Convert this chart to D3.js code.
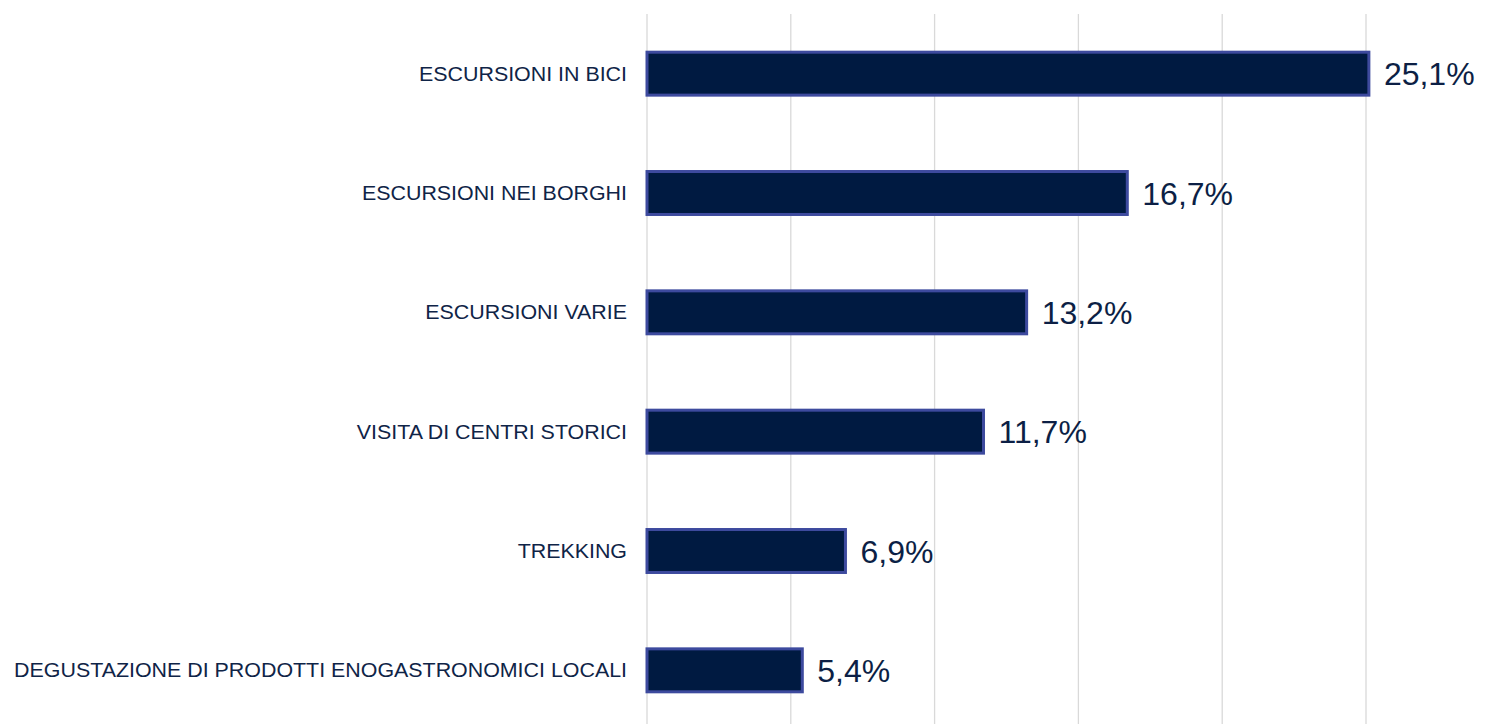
<!DOCTYPE html>
<html>
<head>
<meta charset="utf-8">
<script src="https://cdn.jsdelivr.net/npm/d3@7"></script>
<style>
  html, body { margin: 0; padding: 0; background: #fff; }
  svg text { font-family: "Liberation Sans", Arial, sans-serif; }
</style>
</head>
<body>
<svg id="chart" width="1496" height="724"></svg>
<script>
var categories = [
  'ESCURSIONI IN BICI',
  'ESCURSIONI NEI BORGHI',
  'ESCURSIONI VARIE',
  'VISITA DI CENTRI STORICI',
  'TREKKING',
  'DEGUSTAZIONE DI PRODOTTI ENOGASTRONOMICI LOCALI'
];
var values = [25.1, 16.7, 13.2, 11.7, 6.9, 5.4];
var gridTicks = [0, 5, 10, 15, 20, 25];

var svg = d3.select('#chart');

var xScale = d3.scaleLinear().domain([0, 25]).range([647, 1366]);
var yScale = d3.scaleBand()
  .domain(categories)
  .range([14, 730])
  .paddingInner(0.64)
  .paddingOuter(0.32);

// vertical gridlines
svg.append('g')
  .selectAll('line')
  .data(gridTicks)
  .enter()
  .append('line')
  .attr('x1', function(d) { return xScale(d); })
  .attr('x2', function(d) { return xScale(d); })
  .attr('y1', 14)
  .attr('y2', 724)
  .attr('stroke', '#d9d9d9')
  .attr('stroke-width', 1.3);

var rows = svg.append('g')
  .selectAll('g')
  .data(values)
  .enter()
  .append('g');

rows.append('rect')
  .attr('x', xScale(0))
  .attr('y', function(d, i) { return yScale(categories[i]); })
  .attr('width', function(d) { return xScale(d) - xScale(0); })
  .attr('height', yScale.bandwidth())
  .attr('fill', '#001a41')
  .attr('stroke', '#3d4a9e')
  .attr('stroke-width', 3);

// category labels (slightly wide, as in the original)
rows.append('text')
  .attr('transform', function(d, i) {
    var cy = yScale(categories[i]) + yScale.bandwidth() / 2;
    return 'translate(' + (xScale(0) - 20) + ',' + cy + ') scale(1.07,1)';
  })
  .attr('dy', '0.35em')
  .attr('text-anchor', 'end')
  .attr('font-size', 20)
  .attr('fill', '#0f2447')
  .text(function(d, i) { return categories[i]; });

// value labels
rows.append('text')
  .attr('x', function(d) { return xScale(d) + 15; })
  .attr('y', function(d, i) { return yScale(categories[i]) + yScale.bandwidth() / 2; })
  .attr('dy', '0.36em')
  .attr('font-size', 32)
  .attr('fill', '#0c1f45')
  .text(function(d) { return d.toFixed(1).replace('.', ',') + '%'; });
</script>
</body>
</html>
